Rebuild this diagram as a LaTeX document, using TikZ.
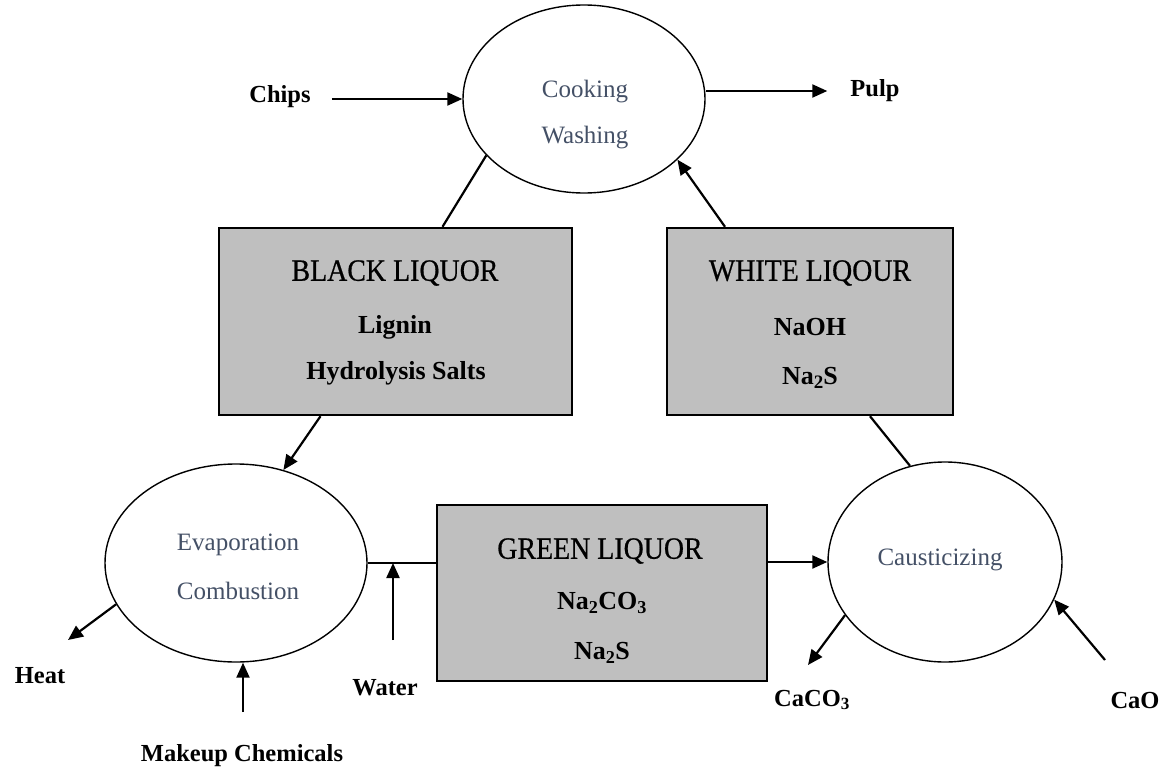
\documentclass[tikz,border=0pt]{standalone}
\usepackage{fontspec}
\setmainfont{Liberation Serif}
\newfontfamily\titlefont[FakeStretch=0.9,FakeBold=0.6]{Liberation Serif}
\usetikzlibrary{shapes.geometric,arrows.meta,calc}
\definecolor{boxgray}{RGB}{191,191,191}
\definecolor{proctext}{RGB}{68,80,102}
\begin{document}
\begin{tikzpicture}[x=1pt,y=-1pt,
  proc/.style={ellipse, draw, line width=1.4pt, inner sep=0pt},
  ptext/.style={text=proctext, font=\fontsize{25}{30}\selectfont, inner sep=0pt},
  liq/.style={draw, line width=2.4pt, fill=boxgray, inner sep=0pt},
  lbl/.style={font=\fontsize{24.5}{28}\selectfont\bfseries, inner sep=1pt},
  ttl/.style={font=\titlefont\fontsize{31}{34}\selectfont, inner sep=0pt},
  subt/.style={font=\fontsize{26}{30}\selectfont\bfseries, inner sep=0pt},
  arr/.style={line width=2.2pt, -{Triangle[length=15pt,width=13pt]}},
  ln/.style={line width=2.2pt}]
\useasboundingbox (0,0) rectangle (1167,771);

% process ellipses
\node[proc, minimum width=242pt, minimum height=188pt] (cook) at (584,99) {};
\node[ptext] (cookt1) at (585,92) {Cooking};
\node[ptext] (cookt2) at (585,138) {Washing};

\node[proc, minimum width=262pt, minimum height=198pt] (evap) at (236,563) {};
\node[ptext] (evapt1) at (238,545) {Evaporation};
\node[ptext] (evapt2) at (238,591) {Combustion};

\node[proc, minimum width=234pt, minimum height=200pt] (caust) at (945,562) {};
\node[ptext] (caustt) at (940,560) {Causticizing};

% liquor boxes
\node[liq, minimum width=353pt, minimum height=187pt] (bl) at (395.5,321.5) {};
\node[ttl] (blt1) at (395,273) {BLACK LIQUOR};
\node[subt] (blt2) at (395,327) {Lignin};
\node[subt] (blt3) at (396,373) {Hydrolysis Salts};

\node[liq, minimum width=286pt, minimum height=187pt] (wl) at (810,321.5) {};
\node[ttl] (wlt1) at (810,273) {WHITE LIQOUR};
\node[subt] (wlt2) at (810,327) {NaOH};
\node[subt] (wlt3) at (810,378) {Na\raisebox{-0.35ex}{\fontsize{19}{20}\selectfont 2}S};

\node[liq, minimum width=330pt, minimum height=176pt] (gl) at (602,593) {};
\node[ttl] (glt1) at (600,551) {GREEN LIQUOR};
\node[subt] (glt2) at (602,603) {Na\textsubscript{2}CO\textsubscript{3}};
\node[subt] (glt3) at (602,653) {Na\textsubscript{2}S};

% labels
\node[lbl] (chips) at (280,97) {Chips};
\node[lbl] (pulp) at (875,91) {Pulp};
\node[lbl] (heat) at (40,676) {Heat};
\node[lbl] (makeup) at (242,756) {Makeup Chemicals};
\node[lbl] (water) at (385,688) {Water};
\node[lbl] (caco3) at (812,700) {CaCO\textsubscript{3}};
\node[lbl] (cao) at (1135,700) {CaO};

% free ends
\coordinate (heattip) at (68,640);
\coordinate (mktail) at (243,712);
\coordinate (wtail) at (393,640);
\coordinate (caco3tip) at (808,665);
\coordinate (caotail) at (1105,660);

% connectors
\draw[arr] ([xshift=20pt]chips.east |- cook.west) -- (cook.west);
\draw[arr] (cook.east |- pulp.west) -- ([xshift=-22pt]pulp.west);
\draw[ln] (cook.210) -- ([xshift=47pt]bl.north);
\draw[arr] ([xshift=-85pt]wl.north) -- (cook.-33);
\draw[arr] ([xshift=-75pt]bl.south) -- (evap.63);
\draw[arr] (evap.199) -- (heattip);
\draw[arr] (mktail) -- (mktail |- evap.south);
\draw[ln] (evap.east) -- (evap.east -| gl.west);
\draw[arr] (wtail) -- (wtail |- evap.east);
\draw[arr] (gl.east |- caust.west) -- (caust.west);
\draw[ln] ([xshift=60pt]wl.south) -- (caust.110);
\draw[arr] (caust.208) -- (caco3tip);
\draw[arr] (caotail) -- (caust.-19);
\end{tikzpicture}
\end{document}
